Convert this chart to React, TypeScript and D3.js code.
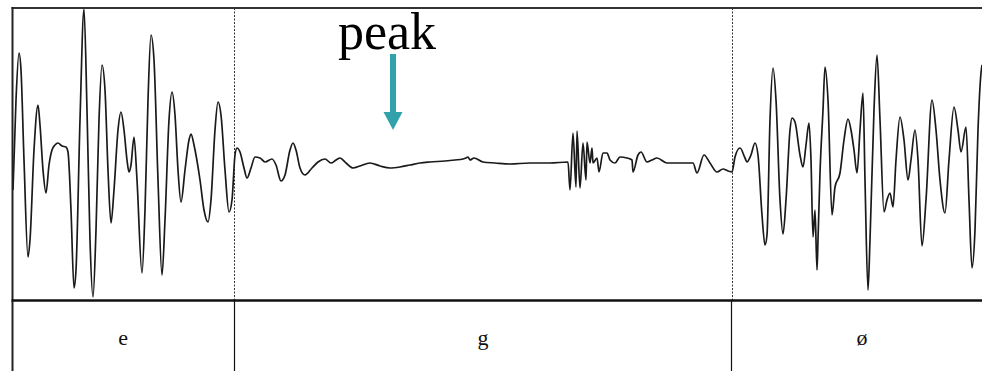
import React from "react";
import * as d3 from "d3";

// waveform samples: time (px-like units) and amplitude (positive up)
const waveTime = [
  13, 16, 19, 21, 24, 28, 30, 34, 38, 40, 43, 46, 49, 52, 55, 58, 62, 66, 68, 71, 74, 76, 80, 84, 87, 90, 93, 96, 99, 102,
  105, 108, 111, 114, 118, 121, 124, 127, 129, 131, 134, 137, 142, 145, 148, 151, 154, 158, 162, 165, 169, 172, 175, 178,
  181, 185, 189, 191, 194, 200, 204, 208, 211, 215, 218, 221, 225, 229, 232, 235, 237, 240, 244, 247, 251, 255, 260, 265,
  272, 276, 281, 285, 290, 293, 296, 300, 305, 312, 318, 325, 331, 336, 340, 346, 353, 360, 370, 380, 390, 400, 410, 420,
  430, 445, 455, 463, 466, 468, 470, 474, 483, 495, 510, 530, 550, 568, 570, 573, 576, 577, 580, 583, 586, 587, 590, 592,
  593, 597, 599, 603, 607, 610, 615, 620, 627, 632, 633, 638, 641, 647, 652, 657, 667, 680, 693, 697, 704, 710, 717, 723,
  728, 732, 735, 740, 745, 747, 751, 755, 758, 762, 765, 767, 770, 773, 776, 780, 783, 786, 790, 792, 795, 800, 803, 806,
  809, 811, 813, 815, 817, 818, 820, 823, 825, 828, 832, 835, 840, 844, 848, 851, 854, 857, 860, 863, 865, 868, 870, 874,
  877, 880, 884, 887, 890, 893, 896, 900, 904, 908, 911, 915, 918, 922, 926, 932, 936, 940, 945, 949, 954, 958, 961, 966,
  969, 972, 975, 978, 981, 982,
];
const waveAmp = [
  -35, 55, 102, 85, -5, -102, -85, 5, 50, 30, -15, -38, -10, 5, 10, 12, 9, 8, 3, -55, -133, -115, 35, 146, 45, -85, -142, -75, 35, 90,
  65, -15, -68, -35, 25, 43, 25, -5, -17, -10, 18, -25, -118, -55, 55, 120, 95, -25, -120, -65, 35, 63, 40, -15,
  -47, -15, 15, 21, 10, -25, -55, -67, -45, 25, 53, 40, -15, -57, -45, 0, 7, 3, -13, -23, -13, -2, -3, -7,
  -4, -10, -26, -20, 5, 12, 5, -13, -20, -13, -7, -4, -8, -5, -3, -8, -13, -11, -8, -11, -13, -12, -10, -8,
  -7, -6, -5, -4, -3, -2, -5, -3, -7, -8, -9, -8, -8, -7, -35, 22, -32, 24, -33, 12, -25, 13, -8, 7,
  -8, -3, -17, 2, 2, -5, -8, -2, -3, -5, -17, 0, 3, -7, -5, -3, -8, -8, -8, -18, 0, -8, -17, -14,
  -16, -17, -2, 7, -3, -7, 0, 12, 0, -60, -90, -80, 35, 87, 55, -45, -79, -45, 25, 37, 33, 0, -12, 10,
  32, -5, -82, -55, -115, -85, -18, 45, 88, 55, -60, -32, -18, 15, 36, 25, 5, -18, 25, 62, -25, -135, -85, 45,
  100, 35, -57, -45, -38, -52, -5, 38, 15, -25, -5, 25, -5, -91, -45, 55, 25, -25, -58, -5, 48, 25, 3, 28,
  -45, -113, -75, 25, 82, 90,
];

// segment boundaries (same time units) and labels
const segBounds = [12.5, 234, 732, 992];
const segLabels = ["e", "g", "ø"];

const peakLabel = "peak";
const peakTime = 393;

export default function App() {
  const W = 982;
  const H = 371;
  const x = d3.scaleLinear().domain([0, 982]).range([0, W]);
  const y = d3.scaleLinear().domain([-147, 147]).range([302, 8]);

  const pts: [number, number][] = waveTime.map((t, i) => [t, waveAmp[i]]);
  const line = d3
    .line<[number, number]>()
    .x((d) => x(d[0]))
    .y((d) => y(d[1]))
    .curve(d3.curveMonotoneX);

  const top = 8;
  const mid = 300.5;
  const left = x(segBounds[0]);
  const px = x(peakTime);
  const teal = "#31a2aa";

  return (
    <svg
      width={W}
      height={H}
      style={{ position: "absolute", left: 0, top: 0, background: "#fff" }}
    >
      <defs>
        <clipPath id="box">
          <rect x={left} y={top} width={W - left} height={mid - top} />
        </clipPath>
      </defs>
      <rect x={0} y={0} width={W} height={H} fill="#fff" />
      {segBounds.slice(1, 3).map((b, i) => (
        <line
          key={"d" + i}
          x1={x(b) + 0.5}
          x2={x(b) + 0.5}
          y1={top}
          y2={mid}
          stroke="#333"
          strokeWidth={1}
          strokeDasharray="2,1.5"
        />
      ))}
      <path
        d={line(pts) || ""}
        fill="none"
        stroke="#1a1a1a"
        strokeWidth={1.7}
        strokeLinejoin="round"
        clipPath="url(#box)"
      />
      <line x1={left - 1} x2={W} y1={top} y2={top} stroke="#333" strokeWidth={2} />
      <line x1={left} x2={left} y1={top - 1} y2={H} stroke="#222" strokeWidth={2} />
      <line x1={left - 1} x2={W} y1={mid} y2={mid} stroke="#111" strokeWidth={2.5} />
      {segBounds.slice(1, 3).map((b, i) => (
        <line
          key={"s" + i}
          x1={x(b) - (i === 1 ? 1 : 0) + 0.5}
          x2={x(b) - (i === 1 ? 1 : 0) + 0.5}
          y1={mid}
          y2={H}
          stroke="#111"
          strokeWidth={1.2}
        />
      ))}
      {segLabels.map((s, i) => (
        <text
          key={s}
          x={(x(segBounds[i]) + x(segBounds[i + 1])) / 2}
          y={345}
          textAnchor="middle"
          fontFamily="'Liberation Serif', serif"
          fontSize={22}
          fill="#111"
        >
          {s}
        </text>
      ))}
      <text
        x={px - 6}
        y={49}
        textAnchor="middle"
        fontFamily="'Liberation Serif', serif"
        fontSize={52}
        fill="#000"
      >
        {peakLabel}
      </text>
      <rect x={px - 3} y={54} width={6} height={60} fill={teal} />
      <polygon
        points={`${px - 9.5},112 ${px + 9.5},112 ${px},130`}
        fill={teal}
      />
    </svg>
  );
}
